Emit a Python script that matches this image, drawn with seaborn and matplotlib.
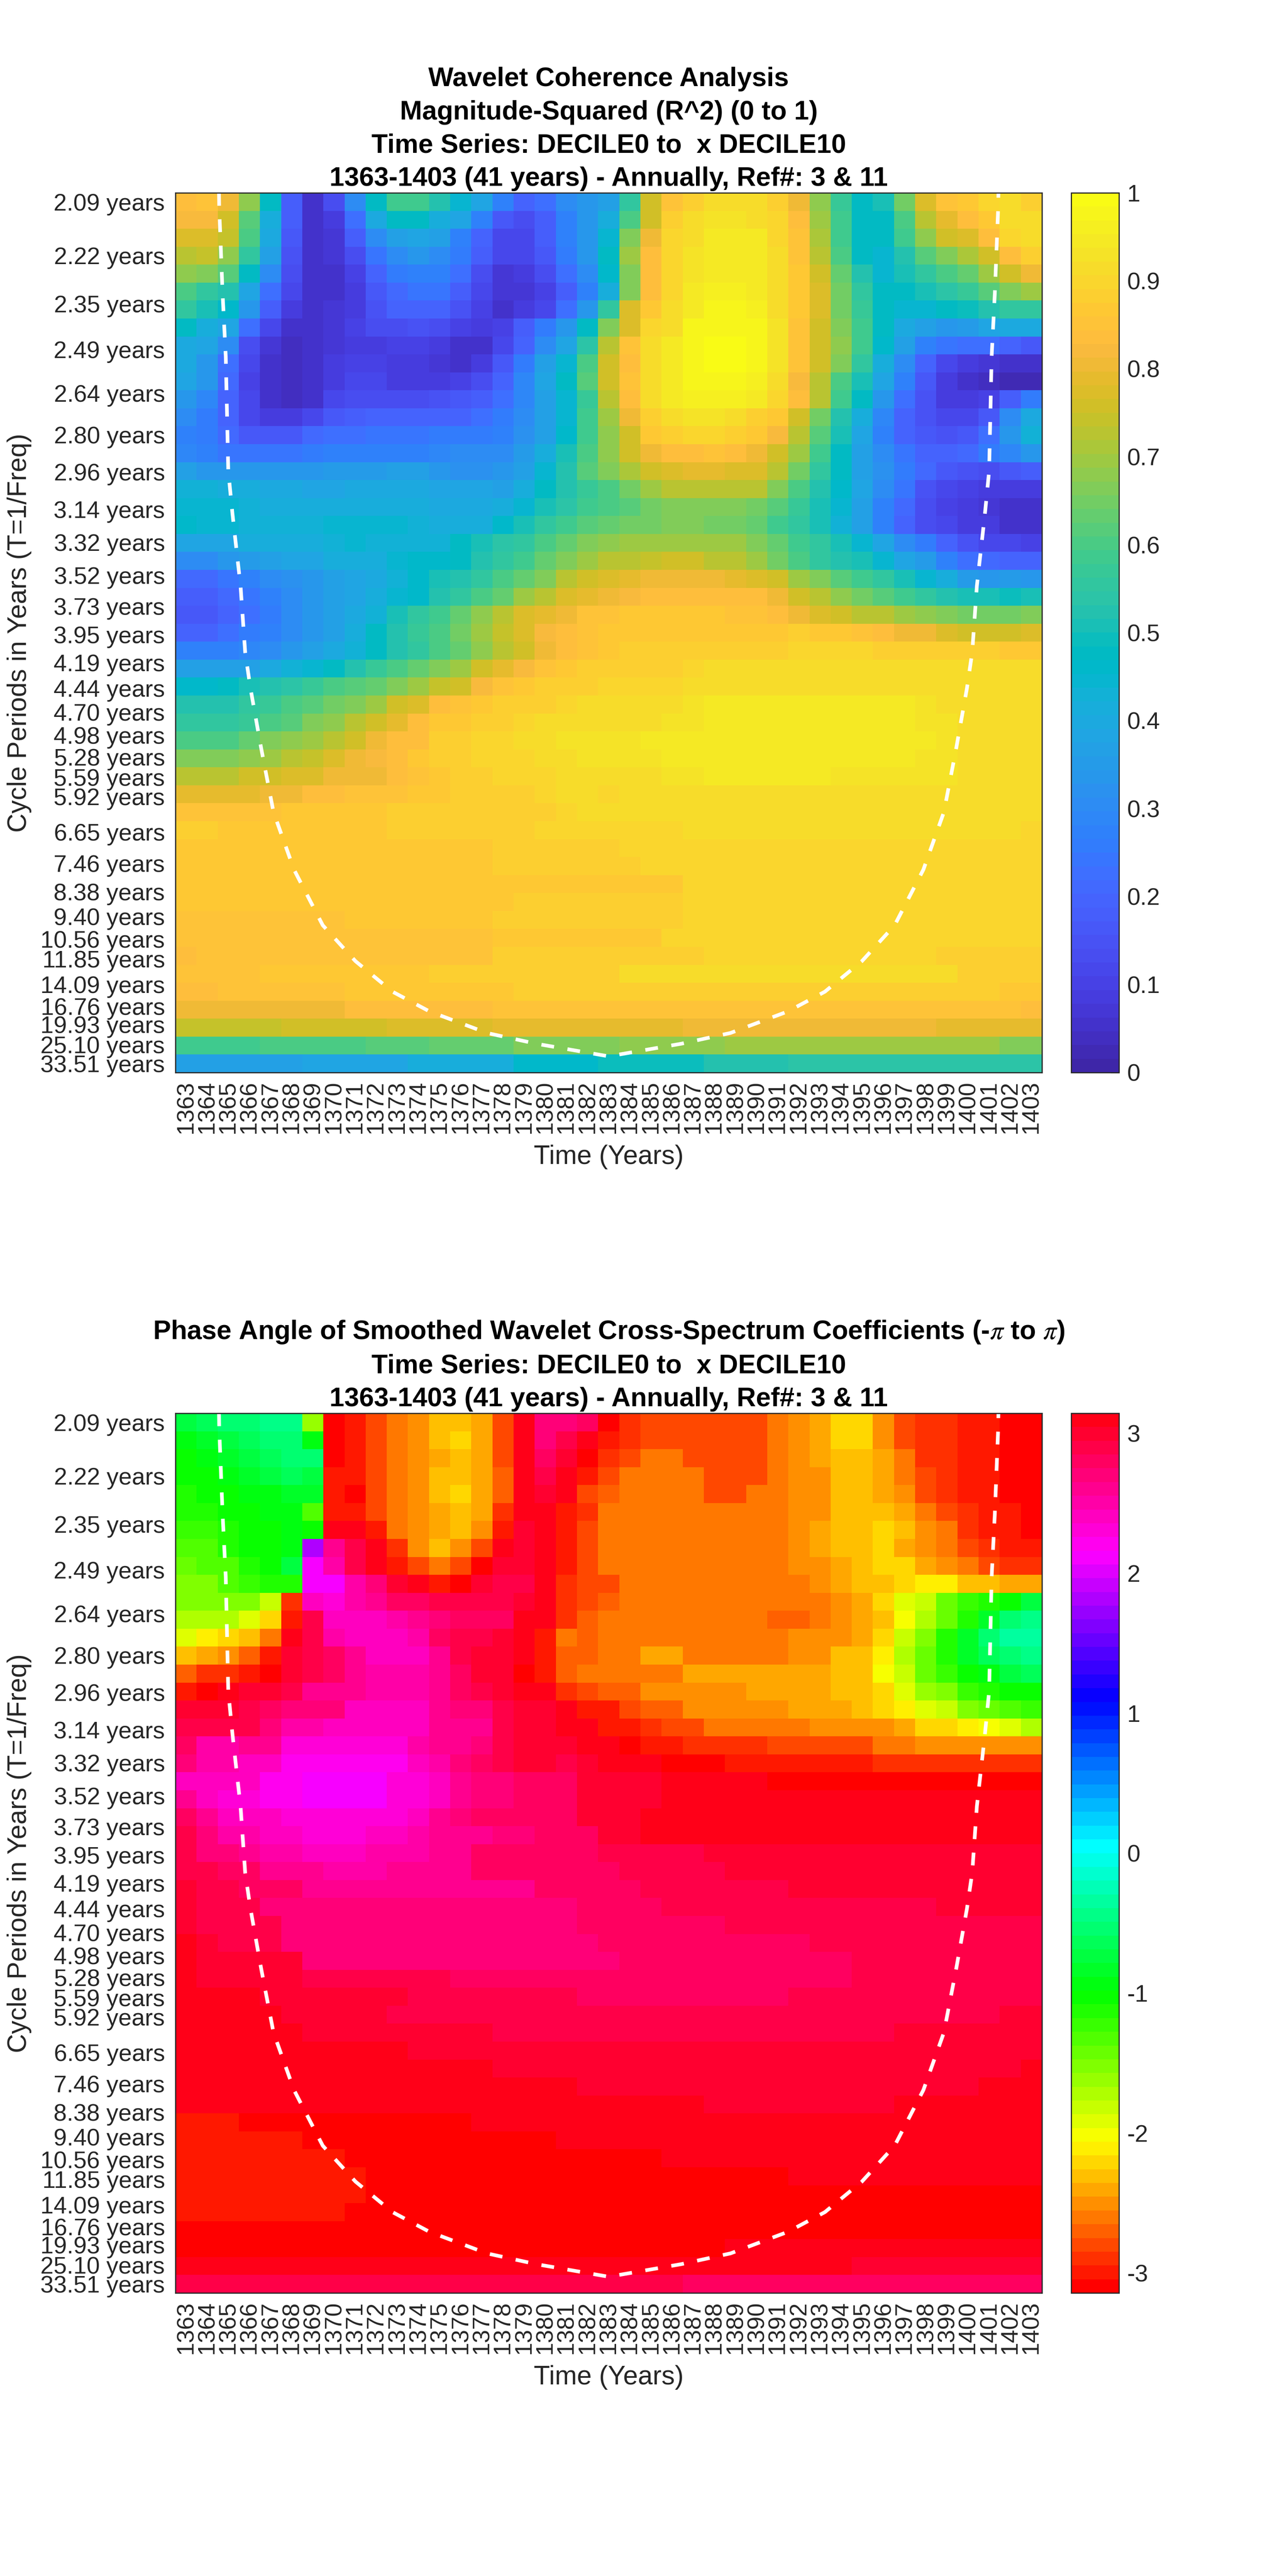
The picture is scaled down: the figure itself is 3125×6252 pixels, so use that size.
# Wavelet coherence and phase heatmaps, DECILE0 to DECILE10
import colorsys
import numpy as np
import pandas as pd
import matplotlib.pyplot as plt
import seaborn as sns
from matplotlib.colors import ListedColormap

# Axis data
years = list(range(1363, 1404))
period_ticks = [2.09, 2.22, 2.35, 2.49, 2.64, 2.80, 2.96, 3.14, 3.32, 3.52, 3.73, 3.95, 4.19, 4.44, 4.70, 4.98,
                5.28, 5.59, 5.92, 6.27, 6.65, 7.04, 7.46, 7.91, 8.38, 8.88, 9.40, 9.96, 10.56, 11.18, 11.85, 12.55,
                13.29, 14.09, 14.92, 15.81, 16.76, 17.75, 18.80, 19.93, 21.10, 22.35, 23.68, 25.10, 26.59, 28.17,
                29.84, 31.62, 33.51]
unlabelled_periods = [6.27, 7.04, 7.91, 8.88, 9.96, 11.18, 12.55, 13.29, 14.92, 15.81, 17.75, 18.80, 21.10, 22.35,
                      23.68, 26.59, 28.17, 29.84, 31.62]

# Cone of influence
coi_years = [1364.56, 1364.57, 1364.73, 1364.88, 1365.0, 1365.2, 1365.58, 1365.8, 1366.05, 1366.55, 1367.14, 1368.11,
             1369.47, 1371.02, 1372.77, 1374.52, 1377.24, 1379.57, 1383.0, 1386.43, 1388.76, 1391.48, 1393.23,
             1394.98, 1396.53, 1397.89, 1398.86, 1399.45, 1399.95, 1400.2, 1400.42, 1400.8, 1401.0, 1401.12, 1401.27,
             1401.43, 1401.44]
coi_periods = [2.07, 2.102, 2.321, 2.512, 2.956, 3.166, 3.591, 4.10, 4.441, 5.145, 6.222, 7.645, 9.82, 12.03, 14.87,
               17.55, 21.86, 24.91, 29.76, 24.91, 21.86, 17.55, 14.87, 12.03, 9.82, 7.645, 6.222, 5.145, 4.441, 4.10,
               3.591, 3.166, 2.956, 2.512, 2.321, 2.102, 2.07]

# Magnitude-squared coherence in hundredths, one row per period, top row first
coherence_upper = [
    [83, 85, 80, 68, 47, 18, 6, 13, 30, 48, 58, 58, 52, 45, 38, 28, 20, 22, 30, 33, 36, 55, 75, 85, 88, 92, 92, 92, 88, 80, 68, 57, 47, 50, 65, 77, 85, 87, 90, 92, 88],
    [82, 82, 76, 62, 42, 18, 6, 9, 22, 40, 47, 47, 42, 38, 28, 17, 14, 18, 28, 33, 42, 60, 76, 88, 91, 93, 93, 92, 90, 83, 70, 58, 47, 47, 60, 72, 79, 84, 87, 92, 91],
    [77, 77, 74, 60, 40, 17, 6, 7, 18, 30, 36, 38, 36, 28, 20, 12, 12, 18, 27, 33, 45, 66, 81, 90, 92, 94, 95, 95, 90, 85, 71, 58, 47, 47, 58, 68, 75, 78, 84, 90, 91],
    [72, 74, 68, 55, 36, 15, 6, 7, 14, 24, 30, 33, 30, 25, 18, 11, 11, 16, 26, 33, 47, 69, 84, 90, 93, 95, 95, 95, 91, 85, 73, 60, 47, 45, 53, 62, 67, 71, 76, 84, 88],
    [68, 66, 62, 48, 30, 14, 6, 6, 10, 20, 26, 28, 27, 22, 14, 7, 8, 13, 22, 30, 46, 67, 84, 90, 93, 95, 95, 95, 92, 87, 75, 63, 52, 45, 50, 55, 60, 64, 69, 75, 80],
    [60, 56, 52, 38, 22, 11, 6, 6, 9, 17, 21, 24, 24, 18, 12, 7, 7, 10, 18, 27, 42, 67, 83, 90, 94, 96, 96, 95, 92, 86, 78, 65, 55, 47, 47, 50, 54, 57, 62, 66, 70],
    [55, 50, 46, 33, 18, 9, 6, 7, 9, 15, 19, 19, 19, 15, 10, 6, 8, 12, 22, 34, 55, 77, 87, 92, 95, 97, 97, 96, 92, 86, 78, 65, 57, 47, 45, 45, 47, 49, 53, 56, 56],
    [47, 42, 38, 22, 11, 6, 6, 7, 10, 13, 14, 15, 13, 10, 8, 10, 18, 25, 33, 47, 66, 78, 90, 92, 97, 98, 98, 97, 93, 85, 76, 67, 58, 47, 40, 36, 34, 35, 38, 40, 40],
    [40, 38, 30, 14, 7, 4, 5, 7, 9, 9, 10, 10, 9, 6, 6, 12, 20, 30, 39, 54, 72, 85, 92, 95, 98, 99, 99, 98, 93, 85, 76, 68, 58, 46, 36, 27, 24, 22, 22, 20, 17],
    [40, 34, 22, 11, 5, 4, 5, 8, 10, 10, 8, 8, 7, 6, 9, 16, 26, 36, 45, 60, 75, 84, 92, 95, 98, 100, 99, 97, 93, 85, 76, 66, 56, 42, 30, 19, 12, 8, 7, 5, 5],
    [38, 33, 21, 10, 5, 4, 5, 9, 11, 11, 9, 8, 9, 10, 13, 20, 29, 39, 47, 62, 75, 85, 92, 95, 97, 98, 98, 96, 92, 82, 72, 60, 50, 38, 28, 16, 8, 5, 4, 3, 3],
    [33, 29, 20, 12, 6, 4, 6, 11, 14, 14, 13, 13, 15, 16, 18, 23, 29, 36, 44, 57, 73, 83, 91, 94, 96, 96, 96, 94, 90, 83, 72, 58, 47, 33, 22, 15, 9, 9, 10, 18, 25],
    [31, 25, 19, 12, 9, 9, 12, 16, 18, 19, 19, 19, 20, 20, 22, 25, 30, 37, 45, 58, 70, 80, 88, 92, 93, 93, 91, 88, 86, 75, 65, 53, 42, 29, 19, 15, 12, 12, 16, 30, 40],
    [28, 26, 21, 17, 17, 17, 21, 22, 23, 24, 24, 24, 25, 25, 26, 28, 32, 37, 46, 58, 68, 76, 86, 88, 90, 90, 88, 86, 82, 72, 61, 50, 39, 28, 20, 17, 15, 16, 22, 33, 43],
    [29, 27, 24, 24, 24, 24, 25, 28, 28, 27, 27, 27, 29, 30, 30, 31, 35, 42, 50, 60, 68, 76, 80, 83, 84, 85, 83, 80, 76, 69, 59, 47, 36, 30, 24, 20, 19, 21, 25, 29, 33],
    [36, 34, 34, 33, 33, 33, 34, 35, 35, 35, 36, 36, 33, 32, 32, 33, 37, 45, 52, 61, 67, 71, 76, 78, 79, 79, 78, 77, 72, 65, 56, 47, 37, 32, 26, 21, 17, 15, 14, 17, 18],
    [43, 43, 42, 41, 40, 40, 39, 39, 40, 40, 40, 40, 39, 38, 38, 37, 41, 47, 52, 57, 60, 65, 70, 72, 73, 73, 73, 72, 67, 60, 53, 46, 38, 31, 24, 15, 12, 10, 9, 8, 8],
    [45, 45, 44, 43, 42, 42, 42, 41, 41, 41, 41, 41, 40, 40, 40, 41, 45, 50, 54, 58, 60, 62, 65, 67, 67, 67, 67, 65, 62, 57, 51, 44, 37, 28, 21, 13, 10, 8, 7, 6, 5],
    [46, 45, 44, 43, 43, 43, 43, 44, 45, 44, 44, 43, 42, 41, 42, 46, 50, 55, 59, 61, 63, 65, 65, 66, 66, 65, 65, 63, 59, 55, 50, 43, 36, 27, 20, 14, 11, 9, 8, 6, 6],
    [38, 38, 39, 41, 41, 41, 42, 43, 44, 43, 43, 43, 43, 47, 50, 54, 56, 60, 63, 67, 68, 69, 70, 70, 70, 70, 69, 67, 63, 58, 55, 50, 45, 38, 31, 25, 19, 15, 12, 12, 10],
    [30, 30, 33, 35, 37, 38, 39, 41, 42, 42, 44, 46, 46, 48, 52, 55, 59, 63, 67, 70, 72, 72, 74, 75, 75, 73, 73, 69, 65, 60, 56, 53, 50, 45, 39, 35, 28, 23, 21, 20, 20],
    [21, 21, 24, 28, 30, 32, 34, 36, 38, 40, 43, 46, 50, 53, 56, 60, 64, 67, 72, 75, 77, 79, 80, 80, 80, 80, 79, 77, 75, 70, 66, 61, 58, 56, 50, 45, 42, 35, 34, 35, 33],
    [18, 18, 21, 24, 27, 30, 34, 36, 39, 42, 45, 46, 52, 56, 60, 64, 70, 73, 77, 79, 80, 82, 84, 84, 84, 84, 84, 83, 80, 76, 73, 68, 65, 62, 59, 56, 53, 50, 50, 49, 50],
    [17, 17, 20, 23, 26, 30, 34, 37, 40, 43, 50, 55, 59, 64, 68, 72, 77, 79, 81, 85, 85, 87, 87, 87, 87, 87, 85, 85, 83, 81, 78, 75, 73, 72, 70, 68, 66, 65, 65, 65, 66],
]
coherence_middle = [
    [20, 20, 22, 25, 28, 31, 33, 37, 42, 47, 52, 57, 60, 65, 69, 74, 78, 82, 84, 85, 86, 86, 87, 87, 87, 87, 87, 87, 87, 88, 87, 86, 85, 84, 80, 80, 78, 76, 76, 75, 78],
    [27, 27, 27, 29, 31, 34, 37, 40, 43, 48, 52, 55, 60, 63, 68, 72, 76, 80, 83, 85, 86, 88, 88, 89, 89, 89, 89, 89, 89, 90, 90, 90, 90, 89, 88, 88, 88, 88, 88, 87, 87],
    [36, 36, 36, 37, 40, 43, 45, 48, 52, 57, 60, 63, 67, 70, 75, 79, 82, 85, 87, 88, 89, 89, 89, 89, 90] + [91] * 16,
    [46, 46, 47, 50, 52, 54, 57, 60, 62, 64, 67, 70, 74, 76, 82, 85, 87, 88, 89, 89, 90, 90, 90, 90, 91] + [92] * 16,
    [52, 52, 53, 55, 57, 60, 62, 65, 67, 70, 75, 78, 83, 85, 87, 88, 89, 89, 90, 91, 91, 91, 92, 92, 93] + [94] * 10 + [93, 92, 91, 91, 91, 91],
    [55, 55, 55, 57, 60, 62, 66, 68, 72, 75, 79, 84, 86, 87, 88, 89, 90, 91, 92, 92, 92, 92, 92, 93, 93] + [94] * 10 + [93, 93, 92, 92, 91, 91],
    [60, 60, 60, 63, 66, 68, 70, 72, 76, 80, 83, 84, 88, 89, 90, 90, 91, 92, 93, 93, 93, 93, 94, 94, 94] + [95] * 10 + [94, 93, 92, 92, 92, 91],
    [66, 66, 66, 68, 70, 72, 74, 77, 80, 82, 84, 87, 89, 89, 90, 90, 90, 92, 92, 93, 93, 93, 93, 94, 94] + [95] * 9 + [94, 93, 93, 92, 92, 91, 91],
    [73, 73, 73, 76, 76, 78, 78, 80, 80, 81, 83, 85, 87, 89, 89, 90, 90, 90, 91, 91, 91, 92, 92, 93, 93, 94, 94, 94, 94, 94, 94, 93, 93, 93, 93, 93, 93, 92, 92, 91, 91],
    [79, 79, 79, 79, 81, 81, 83, 83, 85, 85, 85, 86, 86, 88, 88, 88, 89, 90, 91, 91, 90, 91, 91, 92] + [92] * 14 + [91, 91, 91],
]
coherence_lower = [
    [85] * 5 + [86] * 2 + [87] * 3 + [88] * 5 + [89] * 3 + [90] + [91] * 22,
    [89, 88] + [87] * 8 + [88] + [89] * 6 + [90] * 7 + [91] * 16 + [90],
    [87] + [86] * 14 + [88] * 6 + [90] * 20,
    [87, 87] + [86] * 13 + [88] * 7 + [90] * 19,
    [86] * 15 + [87] * 9 + [90] * 17,
    [86] * 16 + [88] * 8 + [90] * 17,
    [85] * 8 + [86] * 7 + [88] * 9 + [90] * 17,
    [85] * 15 + [87] * 8 + [90] * 18,
    [84] + [85] * 14 + [88] * 10 + [90] * 11 + [88] * 5,
    [85] * 4 + [86] * 8 + [88] * 9 + [91] * 16 + [88] * 4,
    [84] * 2 + [85] * 6 + [86] * 8 + [89] * 23 + [87] * 2,
    [80] * 2 + [81] * 6 + [84] * 7 + [85] * 25 + [83],
    [74] * 5 + [76] * 5 + [77] * 5 + [79] * 9 + [81] * 12 + [79] * 5,
    [58] * 4 + [60] * 5 + [61] * 3 + [64] * 4 + [66] * 5 + [68] * 5 + [70] * 13 + [67] * 2,
    [36] * 6 + [38] * 5 + [42] * 5 + [46] * 4 + [49] * 5 + [52] * 4 + [54] * 12,
]

# Phase angle in radians, same layout
phase_upper = [
    [-.7, -.6, -.52, -.52, -.45, -.45, -1.6, -3.05, -2.95, -2.8, -2.6, -2.5, -2.35, -2.35, -2.45, -2.75, 3.05, 2.7, 2.7, 2.8, -3.1, -2.9] + [-2.75] * 6 + [-2.65, -2.55, -2.45, -2.25, -2.25, -2.55, -2.75, -2.85, -2.85, -2.97, -2.97, -3.05, -3.05],
    [-.9, -.8, -.7, -.65, -.55, -.5, -.9, -3.05, -2.95, -2.8, -2.6, -2.5, -2.35, -2.25, -2.45, -2.75, 3.05, 2.7, 2.85, 3.1, -3.0, -2.85] + [-2.75] * 6 + [-2.65, -2.55, -2.45, -2.25, -2.25, -2.55, -2.8, -2.85, -2.85, -2.97, -2.97, -3.05, -3.05],
    [-1.0, -.9, -.8, -.7, -.6, -.55, -.55, -3.05, -2.95, -2.8, -2.6, -2.5, -2.38, -2.3, -2.45, -2.8, 3.05, 2.8, 2.95, -3.1, -2.85, -2.75, -2.6, -2.6] + [-2.75] * 4 + [-2.65, -2.55, -2.45, -2.35, -2.35, -2.45, -2.65, -2.85, -2.85, -2.97, -2.97, -3.05, -3.05],
    [-1.05, -1.0, -.9, -.85, -.7, -.6, -.75, -2.95, -2.95, -2.8, -2.6, -2.5, -2.3, -2.3, -2.45, -2.7, 3.05, 2.9, 3.05, -2.97, -2.75] + [-2.65] * 4 + [-2.75] * 3 + [-2.65, -2.55, -2.5, -2.35, -2.35, -2.45, -2.6, -2.75, -2.9, -2.97, -2.97, -3.05, -3.05],
    [-1.1, -1.05, -1.0, -.95, -.9, -.85, -.85, -2.95, -3.05, -2.8, -2.6, -2.5, -2.3, -2.25, -2.45, -2.7, 3.05, 3.0, 3.14, -2.8, -2.7] + [-2.65] * 4 + [-2.75] * 2 + [-2.6] * 2 + [-2.55, -2.55, -2.35, -2.35, -2.45, -2.55, -2.75, -2.85, -2.97, -2.97, -3.05, -3.05],
    [-1.15, -1.1, -1.05, -1.0, -.95, -.9, -1.3, -3.0, -3.0, -2.8, -2.6, -2.5, -2.4, -2.3, -2.45, -2.85, 3.05, 3.05, -3.0, -2.85] + [-2.6] * 9 + [-2.5, -2.5, -2.35, -2.35, -2.35, -2.45, -2.65, -2.75, -2.9, -3.0, -3.0, -3.05],
    [-1.25, -1.2, -1.1, -1.05, -1.0, -.95, -1.05, 3.05, 3.1, -2.95, -2.65, -2.5, -2.4, -2.3, -2.5, -3.0, 3.0, 3.1, -3.0, -2.75] + [-2.6] * 9 + [-2.5, -2.4, -2.35, -2.35, -2.2, -2.35, -2.55, -2.6, -2.85, -2.95, -3.0, -3.1],
    [-1.35, -1.3, -1.1, -1.05, -1.0, -.95, 1.85, 2.6, 2.85, 3.14, -2.85, -2.55, -2.35, -2.5, -2.8, 3.05, 3.0, 3.1, -3.0, -2.8] + [-2.6] * 9 + [-2.5, -2.4, -2.35, -2.35, -2.2, -2.4, -2.5, -2.6, -2.75, -2.85, -2.97, -2.97],
    [-1.45, -1.35, -1.3, -1.1, -1.05, -.7, 2.15, 2.5, 2.85, 3.05, -3.0, -2.75, -2.65, -2.75, -3.1, 3.0, 3.0, 3.1, -3.0, -2.75] + [-2.6] * 9 + [-2.55, -2.55, -2.45, -2.35, -2.2, -2.2, -2.4, -2.5, -2.65, -2.75, -2.85, -2.85],
    [-1.57, -1.57, -1.35, -1.25, -1.1, -1.1, 2.09, 2.15, 2.55, 2.7, 2.95, 3.14, -3.0, -3.14, 3.0, 2.9, 2.9, 3.05, -2.9, -2.8, -2.75] + [-2.65] * 9 + [-2.55, -2.45, -2.3, -2.3, -2.2, -2.15, -2.15, -2.3, -2.3, -2.4, -2.4],
    [-1.57, -1.57, -1.57, -1.57, -1.85, -2.85, 2.4, 2.3, 2.5, 2.6, 2.8, 2.8, 2.9, 2.9, 2.9, 2.9, 3.0, 3.14, -2.9, -2.8, -2.7] + [-2.65] * 9 + [-2.6, -2.5, -2.4, -2.25, -1.95, -1.85, -1.45, -1.25, -1.15, -1.0, -.75],
    [-1.75, -1.75, -1.75, -1.9, -2.25, -3.0, 2.85, 2.4, 2.4, 2.4, 2.5, 2.6, 2.7, 2.8, 2.8, 2.8, 3.05, 3.14, -2.9, -2.7] + [-2.6] * 8 + [-2.7, -2.7] + [-2.6, -2.55, -2.45, -2.3, -2.05, -1.75, -1.45, -1.1, -.8, -.55, -.4],
    [-1.9, -2.1, -2.2, -2.35, -2.6, 3.14, 2.9, 2.5, 2.4, 2.4, 2.4, 2.5, 2.75, 2.85, 2.9, 3.0, 3.05, -2.95, -2.65, -2.7] + [-2.6] * 9 + [-2.5, -2.5, -2.5, -2.45, -2.25, -1.85, -1.5, -1.1, -.85, -.55, -.35, -.3],
    [-2.35, -2.45, -2.5, -2.7, -2.95, 3.0, 2.9, 2.8, 2.6, 2.45, 2.45, 2.45, 2.6, 2.85, 2.95, 2.95, 3.14, -2.95, -2.7, -2.7] + [-2.6, -2.6, -2.45, -2.45, -2.6, -2.6, -2.6, -2.6, -2.6] + [-2.5, -2.5, -2.35, -2.3, -2.1, -1.75, -1.45, -1.15, -.85, -.6, -.5, -.4],
    [-2.7, -2.85, -2.9, -2.95, -3.14, 2.95, 2.85, 2.8, 2.6, 2.5, 2.5, 2.5, 2.6, 2.8, 2.95, 2.95, -3.14, -2.95, -2.7, -2.65] + [-2.6] * 4 + [-2.45] * 7 + [-2.35, -2.3, -2.0, -1.8, -1.45, -1.2, -1.0, -.9, -.7, -.6],
    [-3.0, -3.14, 3.05, 3.0, 2.95, 2.9, 2.65, 2.65, 2.65, 2.5, 2.5, 2.5, 2.65, 2.8, 2.9, 2.95, 3.05, 3.14, -2.9, -2.8, -2.7, -2.7] + [-2.5] * 5 + [-2.45] * 4 + [-2.35, -2.3, -2.2, -1.95, -1.65, -1.5, -1.2, -1.1, -1.05, -1.05],
    [3.0, 3.0, 3.0, 2.9, 2.8, 2.7, 2.7, 2.7, 2.45, 2.45, 2.45, 2.45, 2.65, 2.7, 2.7, 2.9, 2.95, 3.0, 3.14, -3.0, -2.95, -2.8, -2.7, -2.7, -2.55, -2.55, -2.55, -2.55, -2.5, -2.45, -2.45, -2.45, -2.35, -2.25, -2.15, -1.95, -1.8, -1.55, -1.4, -1.3, -1.2],
    [2.9, 2.9, 2.9, 2.9, 2.7, 2.5, 2.5, 2.45, 2.45, 2.45, 2.45, 2.45, 2.6, 2.65, 2.65, 2.85, 2.95, 3.0, 3.05, 3.14, -3.0, -3.0, -2.9, -2.8, -2.8, -2.65, -2.65, -2.65, -2.65, -2.65, -2.55, -2.55, -2.5, -2.5, -2.45, -2.25, -2.2, -2.1, -2.0, -1.95, -1.75],
    [2.75, 2.5, 2.5, 2.6, 2.6, 2.3, 2.3, 2.3, 2.3, 2.3, 2.3, 2.5, 2.6, 2.6, 2.7, 2.85, 2.95, 2.95, 3.0, 3.05, 3.14, -3.14, -2.95, -2.95, -2.85, -2.85, -2.85, -2.85, -2.75, -2.75, -2.75, -2.75, -2.75, -2.65, -2.65, -2.55, -2.55, -2.5, -2.5, -2.5, -2.5],
    [2.7, 2.5, 2.5, 2.45, 2.45, 2.25, 2.25, 2.25, 2.25, 2.25, 2.25, 2.45, 2.5, 2.7, 2.8, 2.85, 2.95, 2.95, 2.9, 3.0, 3.05, 3.1, 3.1, -3.14, -3.14, -3.14] + [-3.0] * 7 + [-2.9] * 8,
    [2.45, 2.45, 2.4, 2.4, 2.25, 2.25, 2.09, 2.09, 2.09, 2.09, 2.3, 2.3, 2.4, 2.6, 2.7, 2.7, 2.8, 2.8, 2.8, 3.0] + [3.0] * 3 + [3.05] * 5 + [-3.14] * 13,
    [2.6, 2.45, 2.3, 2.3, 2.25, 2.25, 2.09, 2.09, 2.09, 2.09, 2.3, 2.3, 2.4, 2.6, 2.7, 2.7, 2.8, 2.8, 2.8, 3.0] + [3.0] * 3 + [3.05] * 2 + [3.1] * 16,
    [2.75, 2.6, 2.4, 2.4, 2.4, 2.3, 2.3, 2.3, 2.3, 2.3, 2.3, 2.4, 2.6, 2.7, 2.75, 2.75, 2.8, 2.8, 2.8, 2.95] + [3.0] * 2 + [3.05] * 6 + [3.1] * 13,
    [2.9, 2.7, 2.55, 2.55, 2.4, 2.4, 2.3, 2.3, 2.3, 2.45, 2.45, 2.5, 2.6, 2.6, 2.6, 2.7, 2.7, 2.8, 2.8, 2.8] + [3.0] * 2 + [3.05] * 9 + [3.1] * 10,
]
phase_lower = [
    [2.9, 2.7, 2.7, 2.65, 2.55, 2.55, 2.4, 2.4, 2.4, 2.55, 2.55, 2.55, 2.6, 2.6, 2.75, 2.75, 2.75, 2.8, 2.8, 2.8] + [2.9] * 5 + [3.0] * 16,
    [2.9, 2.9, 2.8, 2.8, 2.6, 2.6, 2.6, 2.55, 2.55, 2.55, 2.65, 2.65, 2.65, 2.65, 2.75, 2.75, 2.75, 2.75, 2.75] + [2.8] * 2 + [2.9] * 5 + [3.0] * 15,
    [3.0, 2.85, 2.85, 2.75, 2.75, 2.75] + [2.6] * 6 + [2.65] * 5 + [2.75] * 2 + [2.8] * 3 + [2.9] * 7 + [3.0] * 12,
    [3.0, 2.9, 2.9, 2.85] + [2.7] * 15 + [2.8] * 4 + [2.9] * 13 + [3.0] * 5,
    [3.0, 2.9, 2.9, 2.9, 2.85] + [2.72] * 14 + [2.8] * 7 + [2.9] * 15,
    [3.05, 3.0, 2.9, 2.9, 2.85] + [2.72] * 15 + [2.8] * 10 + [2.9] * 11,
    [3.05, 3.0, 3.0, 2.95, 2.95, 2.95] + [2.72] * 15 + [2.8] * 11 + [2.9] * 9,
    [3.05] + [3.0] * 5 + [2.85] * 7 + [2.75] * 6 + [2.8] * 13 + [2.9] * 9,
    [3.05] * 4 + [2.95] * 7 + [2.85] * 8 + [2.8] * 10 + [2.9] * 12,
    [3.1] + [3.05] * 4 + [3.0] * 5 + [2.9] * 29 + [3.0] * 2,
    [3.1] * 2 + [3.05] * 4 + [3.0] * 9 + [2.9] * 19 + [3.0] * 7,
    [3.14] * 3 + [3.05] * 8 + [3.0] * 30,
    [3.1] * 7 + [3.05] * 8 + [3.0] * 25 + [3.05],
    [3.14] * 8 + [3.05] * 11 + [3.0] * 19 + [3.05] * 3,
    [3.14] * 10 + [3.05] * 15 + [3.0] * 9 + [3.05] * 7,
    [-3.0] * 3 + [-3.14] * 11 + [3.05] * 27,
    [-3.0] * 6 + [-3.14] * 12 + [3.05] * 23,
    [-3.0] * 8 + [-3.14] * 15 + [3.05] * 18,
    [-3.0] * 9 + [-3.14] * 20 + [3.05] * 12,
    [-3.0] * 9 + [-3.14] * 32,
    [-3.0] * 8 + [-3.14] * 33,
    [-3.14] * 41,
    [-3.14] * 26 + [3.08] * 15,
    [3.08] * 32 + [3.0] * 9,
    [2.85] * 24 + [2.75] * 17,
]

coherence_rows = coherence_upper + coherence_middle + coherence_lower
phase_rows = phase_upper + phase_lower
bad = [('coh', i, len(r)) for i, r in enumerate(coherence_rows) if len(r) != 41]
bad += [('phase', i, len(r)) for i, r in enumerate(phase_rows) if len(r) != 41]
assert not bad and len(coherence_rows) == 49 and len(phase_rows) == 49, (bad, len(coherence_rows), len(phase_rows))

# MATLAB parula, 64 levels
parula_levels = [
    (0.2422, 0.1504, 0.6603), (0.2504, 0.1650, 0.7076), (0.2578, 0.1818, 0.7511), (0.2647, 0.1978, 0.7952),
    (0.2706, 0.2147, 0.8364), (0.2751, 0.2342, 0.8710), (0.2783, 0.2559, 0.8991), (0.2803, 0.2782, 0.9221),
    (0.2813, 0.3006, 0.9414), (0.2810, 0.3228, 0.9579), (0.2795, 0.3447, 0.9717), (0.2760, 0.3667, 0.9829),
    (0.2699, 0.3892, 0.9906), (0.2602, 0.4123, 0.9952), (0.2440, 0.4358, 0.9988), (0.2206, 0.4603, 0.9973),
    (0.1963, 0.4847, 0.9892), (0.1834, 0.5074, 0.9798), (0.1786, 0.5289, 0.9682), (0.1764, 0.5499, 0.9520),
    (0.1687, 0.5703, 0.9359), (0.1540, 0.5902, 0.9218), (0.1460, 0.6091, 0.9079), (0.1380, 0.6276, 0.8973),
    (0.1248, 0.6459, 0.8883), (0.1113, 0.6635, 0.8763), (0.0952, 0.6798, 0.8598), (0.0689, 0.6948, 0.8394),
    (0.0297, 0.7082, 0.8163), (0.0036, 0.7203, 0.7917), (0.0067, 0.7312, 0.7660), (0.0433, 0.7411, 0.7394),
    (0.0964, 0.7500, 0.7120), (0.1408, 0.7584, 0.6842), (0.1717, 0.7670, 0.6554), (0.1938, 0.7758, 0.6251),
    (0.2161, 0.7843, 0.5923), (0.2470, 0.7918, 0.5567), (0.2906, 0.7973, 0.5188), (0.3406, 0.8008, 0.4789),
    (0.3909, 0.8029, 0.4354), (0.4456, 0.8024, 0.3909), (0.5044, 0.7993, 0.3480), (0.5616, 0.7942, 0.3045),
    (0.6174, 0.7876, 0.2612), (0.6720, 0.7793, 0.2227), (0.7242, 0.7698, 0.1910), (0.7738, 0.7598, 0.1646),
    (0.8203, 0.7498, 0.1535), (0.8634, 0.7406, 0.1596), (0.9035, 0.7330, 0.1774), (0.9393, 0.7288, 0.2100),
    (0.9728, 0.7298, 0.2394), (0.9956, 0.7434, 0.2371), (0.9970, 0.7659, 0.2199), (0.9952, 0.7861, 0.1994),
    (0.9892, 0.8136, 0.1885), (0.9786, 0.8386, 0.1766), (0.9676, 0.8639, 0.1643), (0.9610, 0.8890, 0.1537),
    (0.9597, 0.9135, 0.1423), (0.9628, 0.9373, 0.1265), (0.9691, 0.9606, 0.1064), (0.9769, 0.9839, 0.0805),
]
parula = ListedColormap(parula_levels)
hsv64 = ListedColormap([colorsys.hsv_to_rgb(i / 64, 1, 1) for i in range(64)])

sns.set_theme(style='white')
plt.rcParams['font.family'] = ['Liberation Sans', 'DejaVu Sans']
plt.rcParams['mathtext.fontset'] = 'stix'

W, H, DPI = 3125, 6252, 400
TEXT = '#262626'
TICK_PT = 10.4
LABEL_PT = 11.6
TITLE_PT = 11.65


def box(left, top, right, bottom):
    # pixel box to figure fractions
    return [left / W, 1 - bottom / H, (right - left) / W, (bottom - top) / H]


def period_to_row(period):
    # rows run evenly in frequency between the first and last period
    f = 1 / np.asarray(period, dtype=float)
    f0, f1 = 1 / period_ticks[0], 1 / period_ticks[-1]
    return 0.5 + 48 * (f0 - f) / (f0 - f1)


def draw_panel(ax, cax, frame, cmap, vmin, vmax, cticks, ctick_labels, title):
    sns.heatmap(frame, ax=ax, cbar_ax=cax, cmap=cmap, vmin=vmin, vmax=vmax,
                xticklabels=False, yticklabels=False)
    ax.set_xticks(np.arange(len(years)) + 0.5)
    ax.set_xticklabels(years, rotation=90, fontsize=TICK_PT, color=TEXT)
    ax.set_yticks(period_to_row(period_ticks))
    ax.set_yticklabels(['' if p in unlabelled_periods else f'{p:.2f} years' for p in period_ticks],
                       rotation=0, fontsize=TICK_PT, color=TEXT)
    ax.tick_params(axis='both', which='major', direction='in', length=3.6, width=0.5, color=TEXT,
                   top=True, right=True, bottom=True, left=True)
    ax.tick_params(axis='x', pad=3.5)
    ax.tick_params(axis='y', pad=4.6)
    ax.set_xlabel('Time (Years)', fontsize=LABEL_PT, color=TEXT)
    ax.set_ylabel('Cycle Periods in Years (T=1/Freq)', fontsize=LABEL_PT, color=TEXT)
    ax.xaxis.set_label_coords(0.5, -0.082)
    ax.yaxis.set_label_coords(-0.166, 0.5)
    for spine in ax.spines.values():
        spine.set_visible(True)
        spine.set_linewidth(0.5)
        spine.set_color(TEXT)
    ax.set_title(title, fontsize=TITLE_PT, fontweight='bold', color='black', linespacing=1.44, pad=3)

    # cone of influence
    ax.plot(np.array(coi_years) - years[0] + 0.5, period_to_row(coi_periods), color='white', lw=1.6,
            dashes=(3.5, 3.7), dash_capstyle='butt', clip_on=True)

    cbar = ax.collections[0].colorbar
    cbar.set_ticks(cticks)
    cbar.set_ticklabels(ctick_labels)
    cbar.ax.tick_params(direction='in', length=3.6, width=0.5, color=TEXT, labelsize=TICK_PT,
                        labelcolor=TEXT, right=True, pad=3.5)
    cbar.outline.set_visible(True)
    cbar.outline.set_linewidth(0.5)
    cbar.outline.set_edgecolor(TEXT)


fig = plt.figure(figsize=(W / DPI, H / DPI), dpi=DPI, facecolor='white')

# Top panel: coherence
ax_top = fig.add_axes(box(426, 468, 2530, 2603))
cax_top = fig.add_axes(box(2601, 468, 2717, 2603))
coherence_frame = pd.DataFrame(np.array(coherence_rows) / 100, columns=years)
draw_panel(ax_top, cax_top, coherence_frame, parula, 0, 1,
           [i / 10 for i in range(11)], ['0', '0.1', '0.2', '0.3', '0.4', '0.5', '0.6', '0.7', '0.8', '0.9', '1'],
           'Wavelet Coherence Analysis\nMagnitude-Squared (R^2) (0 to 1)\n'
           'Time Series: DECILE0 to  x DECILE10\n1363-1403 (41 years) - Annually, Ref#: 3 & 11')

# Bottom panel: phase
ax_bot = fig.add_axes(box(426, 3430, 2530, 5565))
cax_bot = fig.add_axes(box(2601, 3430, 2717, 5565))
phase_frame = pd.DataFrame(phase_rows, columns=years)
draw_panel(ax_bot, cax_bot, phase_frame, hsv64, -np.pi, np.pi,
           [-3, -2, -1, 0, 1, 2, 3], ['-3', '-2', '-1', '0', '1', '2', '3'],
           'Phase Angle of Smoothed Wavelet Cross-Spectrum Coefficients (-$\\pi$ to $\\pi$)\n'
           'Time Series: DECILE0 to  x DECILE10\n1363-1403 (41 years) - Annually, Ref#: 3 & 11')

fig.savefig('out.png', dpi=DPI, facecolor='white')
